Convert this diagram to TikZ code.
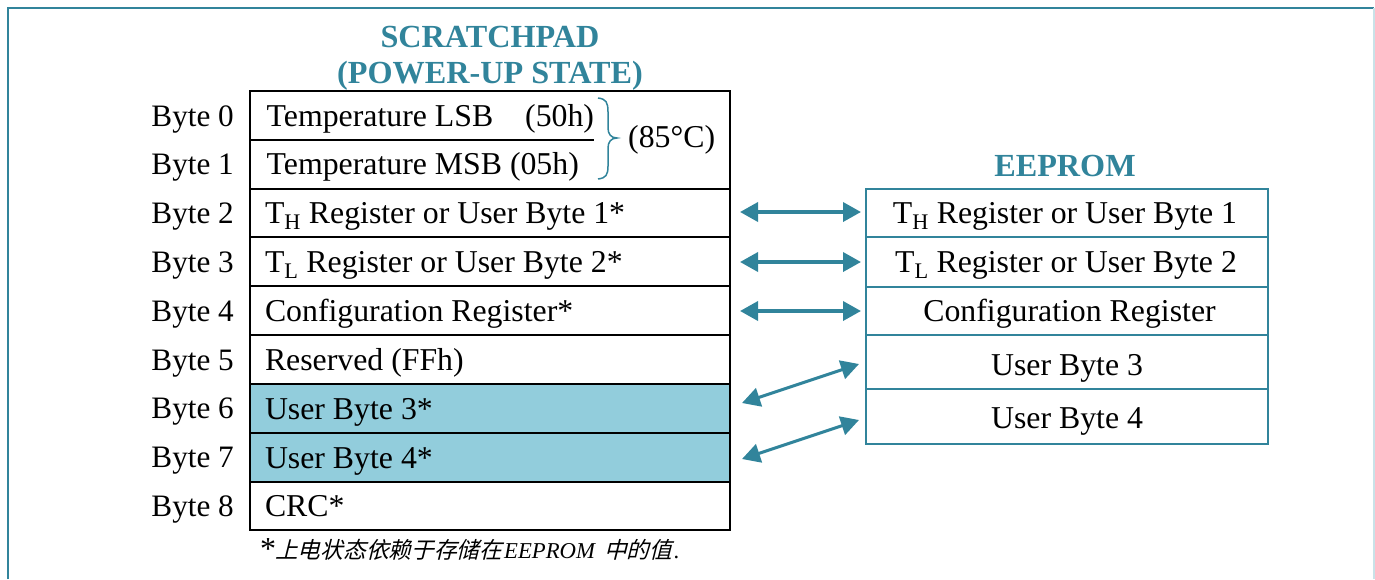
\documentclass[tikz,border=0pt]{standalone}
\usepackage{fontspec}
\usetikzlibrary{arrows.meta}
\setmainfont{Liberation Serif}
\newfontfamily\cjkit[FakeSlant=0.25]{Noto Sans CJK SC}
\definecolor{teal1}{HTML}{31849B}
\definecolor{aqua1}{HTML}{92CDDC}
\definecolor{frameR}{HTML}{C9E2E8}
\newcommand{\bodysize}{\fontsize{31.8}{36}\selectfont}
\tikzset{
  x=1pt,y=-1pt,
  every node/.style={font=\bodysize,text=black},
  leftrow/.style={draw=black,line width=2pt,outer sep=0pt,anchor=north west,minimum width=480pt,text width=450pt,inner xsep=15pt,inner ysep=0pt,align=flush left,text height=28pt,text depth=7pt},
  rightrow/.style={draw=teal1,line width=1.4pt,outer sep=0pt,anchor=north west,minimum width=402pt,inner sep=0pt,align=center,text height=28pt,text depth=7pt},
  bytelab/.style={anchor=east,inner sep=0pt,text height=27pt,text depth=7pt,font=\fontsize{31.2}{36}\selectfont},
  plain/.style={anchor=west,inner sep=0pt,text height=27pt,text depth=7pt},
  heading/.style={font=\fontsize{32.2}{36}\selectfont\bfseries,text=teal1,inner sep=0pt,align=center},
  dblarrow/.style={draw=teal1,line width=3.6pt,{Triangle[length=18pt,width=19pt]}-{Triangle[length=18pt,width=19pt]}},
  slantarrow/.style={dblarrow,line width=3pt},
}
\begin{document}
\begin{tikzpicture}
\useasboundingbox (0,0) rectangle (1375,579);
% frame
\draw[teal1,line width=2pt] (8,579) -- (8,8) -- (1374,8);
\draw[frameR,line width=1.5pt] (1374,8) -- (1374,579);
% headings
\node[heading] (hs) at (490,58) {SCRATCHPAD\\(POWER-UP STATE)};
\node[heading] (he) at (1065,166) {EEPROM};
% left table
\node[leftrow,minimum height=98pt] (r01) at (250,91) {};
\node[leftrow,minimum height=48pt] (r2) at (250,189) {T\textsubscript{H} Register or User Byte 1*};
\node[leftrow,minimum height=49pt] (r3) at (250,237) {T\textsubscript{L} Register or User Byte 2*};
\node[leftrow,minimum height=49pt] (r4) at (250,286) {Configuration Register*};
\node[leftrow,minimum height=49pt] (r5) at (250,335) {Reserved (FFh)};
\node[leftrow,minimum height=49pt,fill=aqua1] (r6) at (250,384) {User Byte 3*};
\node[leftrow,minimum height=49pt,fill=aqua1] (r7) at (250,433) {User Byte 4*};
\node[leftrow,minimum height=48pt] (r8) at (250,482) {CRC*};
% temperature cell contents
\coordinate (sepL) at (250,140);
\coordinate (sepR) at (594,140);
\draw[black,line width=2pt] (sepL) -- (sepR);
\node[plain] (t0) at (266.5,116) {Temperature LSB};
\node[plain] (t0h) at (525,116) {(50h)};
\node[plain] (t1) at (266.5,164) {Temperature MSB (05h)};
\node[plain] (t85) at (628,137) {(85°C)};
\draw[teal1,line width=1.5pt] (598,98) .. controls (606,99) and (608,102) .. (608,112) -- (608,128) .. controls (608,134) and (611,138) .. (617,138) .. controls (611,138) and (608,142) .. (608,148) -- (608,166) .. controls (608,175) and (606,178) .. (598,179);
% byte labels
\node[bytelab] (b0) at (234,116) {Byte 0};
\node[bytelab] (b1) at (234,164) {Byte 1};
\node[bytelab] (b2) at (234,213) {Byte 2};
\node[bytelab] (b3) at (234,262) {Byte 3};
\node[bytelab] (b4) at (234,311) {Byte 4};
\node[bytelab] (b5) at (234,360) {Byte 5};
\node[bytelab] (b6) at (234,408) {Byte 6};
\node[bytelab] (b7) at (234,457) {Byte 7};
\node[bytelab] (b8) at (234,506) {Byte 8};
% right table
\node[rightrow,minimum height=48pt] (e1) at (866,189) {T\textsubscript{H} Register or User Byte 1\hspace{4pt}};
\node[rightrow,minimum height=50pt] (e2) at (866,237) {T\textsubscript{L} Register or User Byte 2\hspace{2pt}};
\node[rightrow,minimum height=48pt] (e3) at (866,287) {\hspace{5pt}Configuration Register};
\node[rightrow,minimum height=54pt,text height=33pt] (e4) at (866,335) {User Byte 3};
\node[rightrow,minimum height=55pt,text height=31pt] (e5) at (866,389) {User Byte 4};
% arrows
\coordinate (a2l) at (740,212); \coordinate (a2r) at (861,212);
\coordinate (a3l) at (740,262); \coordinate (a3r) at (861,262);
\coordinate (a4l) at (740,311); \coordinate (a4r) at (861,311);
\coordinate (a6l) at (742,403); \coordinate (a6r) at (859,364);
\coordinate (a7l) at (742,459); \coordinate (a7r) at (859,420);
\draw[dblarrow] (a2l) -- (a2r);
\draw[dblarrow] (a3l) -- (a3r);
\draw[dblarrow] (a4l) -- (a4r);
\draw[slantarrow] (a6l) -- (a6r);
\draw[slantarrow] (a7l) -- (a7r);
% footnote
\node[anchor=base west,inner sep=0pt,font=\fontsize{32}{36}\selectfont] (star) at (260,559) {*};
\node[anchor=base west,inner sep=0pt,font=\fontsize{22.7}{28}\selectfont] (note) at (275,558) {{\cjkit 上电状态依赖于存储在}\hspace{2pt}\textit{EEPROM}\hspace{8pt}{\cjkit 中的值}\hspace{2pt}\textit{.}};
\end{tikzpicture}
\end{document}
